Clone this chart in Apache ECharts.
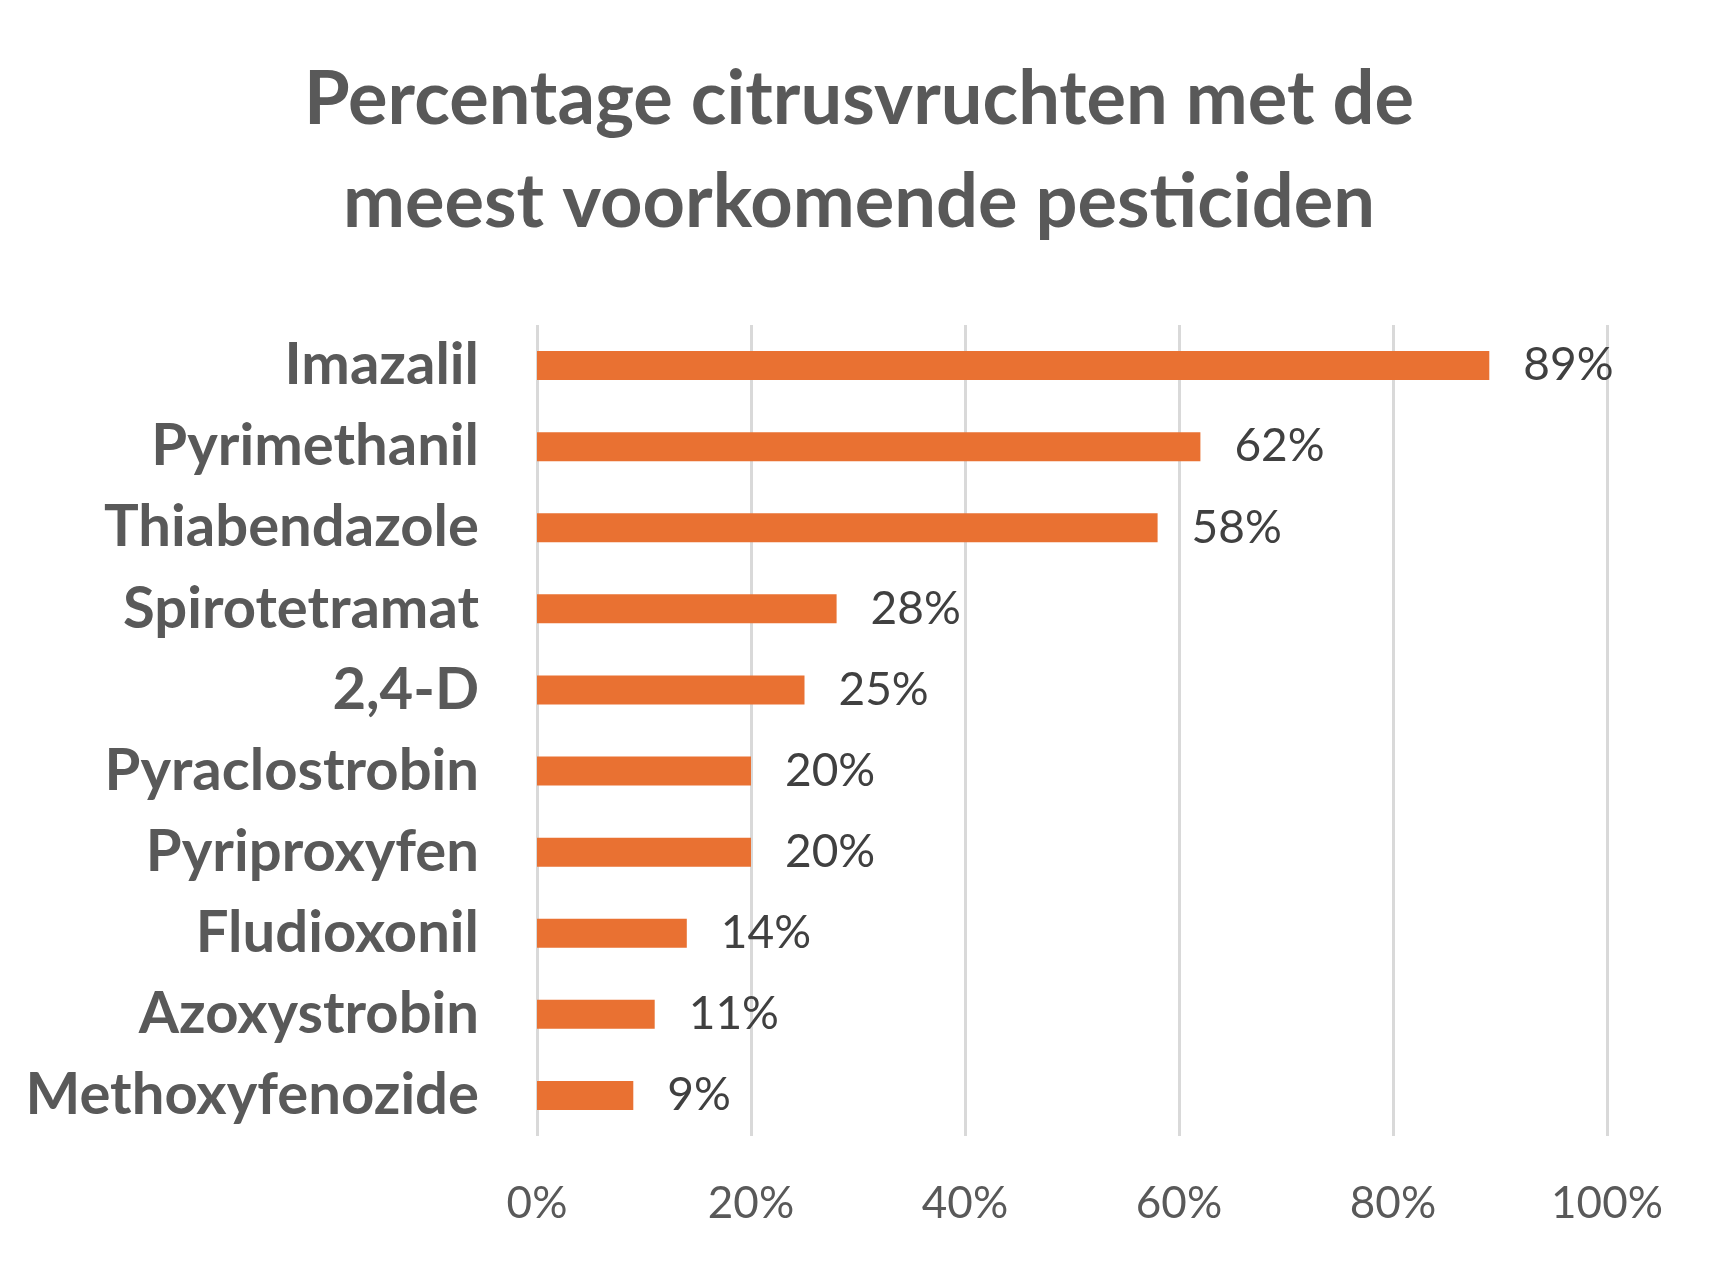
<!DOCTYPE html>
<html><head><meta charset="utf-8">
<script src="https://cdn.jsdelivr.net/npm/echarts@6/dist/echarts.min.js"></script>
<style>html,body{margin:0;background:#fff}#c{width:1718px;height:1268px}</style>
</head><body><div id="c"></div>
<script>
const categories = ['Imazalil', 'Pyrimethanil', 'Thiabendazole', 'Spirotetramat', '2,4-D',
	'Pyraclostrobin', 'Pyriproxyfen', 'Fludioxonil', 'Azoxystrobin', 'Methoxyfenozide'];
const values = [89, 62, 58, 28, 25, 20, 20, 14, 11, 9];
const xTicks = [0, 20, 40, 60, 80, 100];

const chart = echarts.init(document.getElementById('c'));
chart.setOption({
	backgroundColor: '#fff',
	title: {
		text: 'Percentage citrusvruchten met de\nmeest voorkomende pesticiden',
		left: 'center', top: 44,
		textStyle: { fontFamily: 'Lato', fontWeight: 'bold', fontSize: 74, color: '#595959', lineHeight: 103 },
	},
	grid: { left: 537, right: 111, top: 325, bottom: 132 },
	xAxis: {
		type: 'value', min: xTicks[0], max: xTicks[xTicks.length - 1], interval: 20,
		axisLine: { show: false }, axisTick: { show: false },
		splitLine: { lineStyle: { color: '#d9d9d9', width: 3 } },
		axisLabel: { formatter: '{value}%', fontFamily: 'Lato', fontSize: 44, color: '#595959', margin: 46 },
	},
	yAxis: {
		type: 'category', data: categories, inverse: true,
		axisLine: { show: false }, axisTick: { show: false },
		axisLabel: { fontFamily: 'Lato', fontWeight: 'bold', fontSize: 58, color: '#595959', margin: 58 },
	},
	series: [{
		type: 'bar', data: values, barWidth: 29,
		itemStyle: { color: '#e97132' },
		label: { show: true, position: 'right', distance: 34, formatter: '{c}%',
			fontFamily: 'Lato', fontSize: 46, color: '#404040' },
	}],
});
</script></body></html>
